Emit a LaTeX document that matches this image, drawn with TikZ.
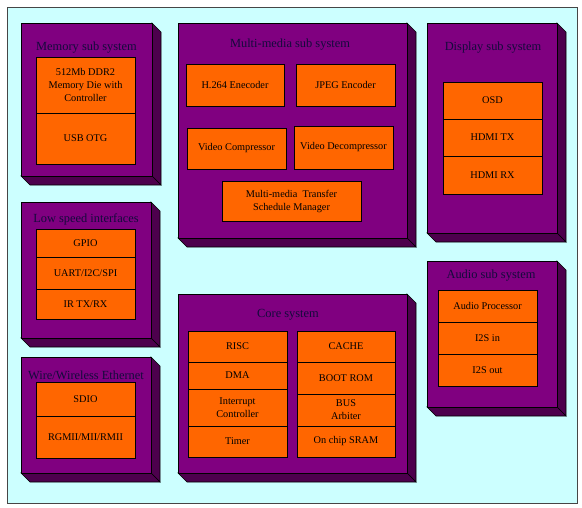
\documentclass[tikz,border=0pt]{standalone}
\usepackage{fontspec}
\setmainfont{Liberation Serif}
\definecolor{bgc}{RGB}{204,255,255}
\definecolor{purp}{RGB}{128,0,128}
\definecolor{purpside}{RGB}{77,0,77}
\definecolor{orng}{RGB}{255,102,0}
\definecolor{ttl}{RGB}{20,10,60}
\definecolor{frame}{RGB}{70,70,70}
\tikzset{
  blk/.style={draw=black, line width=0.6pt, fill=orng, inner sep=0pt, align=center,
    font=\fontsize{10.3}{13}\selectfont, text=black},
  front/.style={draw=black, line width=0.6pt, fill=purp, inner sep=0pt},
  side/.style={draw=black, line width=0.6pt, fill=purpside},
  ttlstyle/.style={inner sep=0pt, font=\fontsize{12.4}{14}\selectfont, text=ttl, yshift=-1.5pt},
}
\newcommand\blk[6]{\node[blk, minimum width={#4-#2}, minimum height={#5-#3}] (#1) at ({(#2+#4)/2},{(#3+#5)/2}) {#6};}
\newcommand\sysbox[5]{%
  \filldraw[side] (#4,#3) -- ({#4+9},{#3+9}) -- ({#4+9},{#5+9}) -- (#4,#5) -- cycle;
  \filldraw[side] (#2,#5) -- (#4,#5) -- ({#4+9},{#5+9}) -- ({#2+9},{#5+9}) -- cycle;
  \node[front, minimum width={#4-#2}, minimum height={#5-#3}] (#1) at ({(#2+#4)/2},{(#3+#5)/2}) {};}
\begin{document}
\begin{tikzpicture}[x=1pt,y=-1pt]
\useasboundingbox (0,0) rectangle (582,507);
\node[draw=frame, fill=bgc, line width=0.8pt, minimum width=570, minimum height=496, inner sep=0pt] (bg) at (292,255) {};
% Memory
\sysbox{mem}{21}{23}{152}{176}
\node[ttlstyle] (memt) at (86.5,46) {Memory sub system};
\blk{ddr}{36}{57}{135}{113}{512Mb DDR2\\Memory Die with\\Controller}
\blk{usb}{36}{113}{135}{164}{USB OTG}
% Low speed
\sysbox{low}{21}{202}{151}{338}
\node[ttlstyle] (lowt) at (86,218) {Low speed interfaces};
\blk{gpio}{36}{229}{135}{257}{GPIO}
\blk{uart}{36}{257}{135}{289}{UART/I2C/SPI}
\blk{ir}{36}{289}{135}{319}{IR TX/RX}
% Ethernet
\sysbox{eth}{21}{357}{151}{473}
\node[ttlstyle] (etht) at (86,374) {Wire/Wireless Ethernet};
\blk{sdio}{36}{382}{135}{416}{SDIO}
\blk{rgmii}{36}{416}{135}{458}{RGMII/MII/RMII}
% Multimedia
\sysbox{mm}{178}{23}{407}{238}
\node[ttlstyle] (mmt) at (290,43) {Multi-media sub system};
\blk{h264}{186}{64}{284}{106}{H.264 Enecoder}
\blk{jpeg}{296}{64}{395}{106}{JPEG Encoder}
\blk{vc}{187}{128}{286}{169}{Video Compressor}
\blk{vd}{294}{126}{393}{169}{Video Decompressor}
\blk{mts}{222}{181}{361}{221}{Multi-media\ \ Transfer\\Schedule Manager}
% Core
\sysbox{core}{178}{294}{407}{473}
\node[ttlstyle] (coret) at (288,313) {Core system};
\blk{risc}{188}{331}{287}{362}{RISC}
\blk{dma}{188}{362}{287}{389}{DMA}
\blk{intc}{188}{389}{287}{426}{Interrupt\\Controller}
\blk{timer}{188}{426}{287}{457}{Timer}
\blk{cache}{297}{331}{395}{362}{CACHE}
\blk{boot}{297}{362}{395}{394}{BOOT ROM}
\blk{bus}{297}{394}{395}{426}{BUS\\Arbiter}
\blk{sram}{297}{426}{395}{457}{On chip SRAM}
% Display
\sysbox{disp}{427}{23}{557}{233}
\node[ttlstyle] (dispt) at (493,46) {Display sub system};
\blk{osd}{443}{82}{542}{119}{OSD}
\blk{hdtx}{443}{119}{542}{156}{HDMI TX}
\blk{hdrx}{443}{156}{542}{194}{HDMI RX}
% Audio
\sysbox{aud}{427}{261}{557}{407}
\node[ttlstyle] (audt) at (491,274) {Audio sub system};
\blk{ap}{438}{290}{537}{322}{Audio Processor}
\blk{i2si}{438}{322}{537}{354}{I2S in}
\blk{i2so}{438}{354}{537}{386}{I2S out}
\end{tikzpicture}
\end{document}
